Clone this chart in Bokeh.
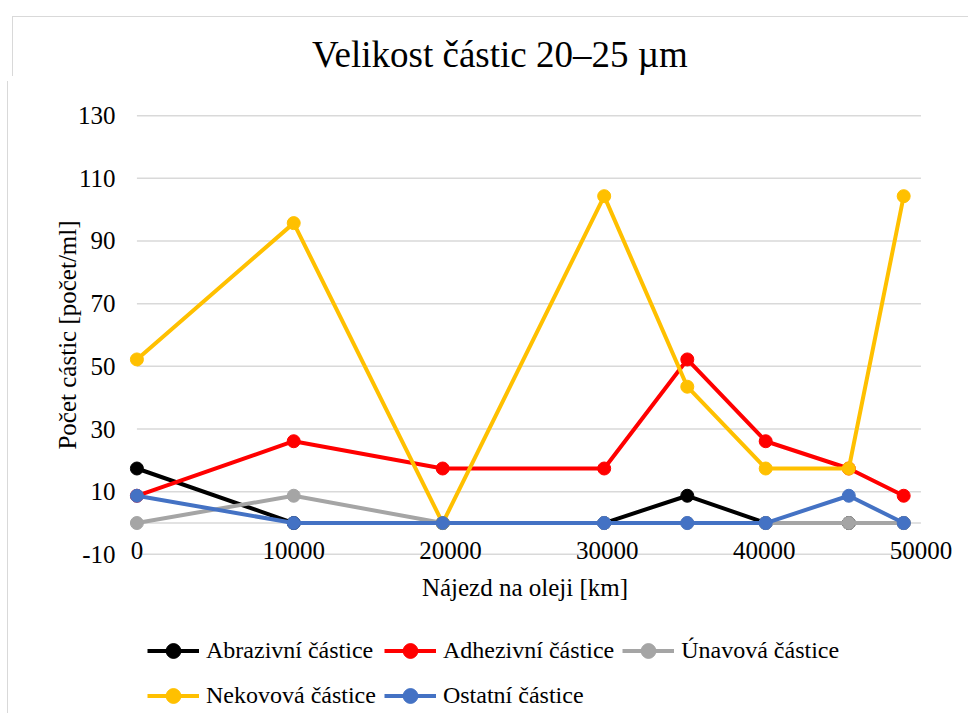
from bokeh.plotting import figure
from bokeh.models import FixedTicker, Legend, LegendItem, Range1d, Spacer, Div
from bokeh.layouts import column, row
from bokeh.embed import file_html
from bokeh.resources import INLINE

# ---- data ----
km = [0, 10000, 19500, 29800, 35100, 40100, 45400, 48900]
abrazivni = [17.4, 0, 0, 0, 8.7, 0, 0, 0]
adhezivni = [8.7, 26.1, 17.4, 17.4, 52.2, 26.1, 17.4, 8.7]
unavova = [0, 8.7, 0, 0, 0, 0, 0, 0]
nekovova = [52.2, 95.7, 0, 104.3, 43.5, 17.4, 17.4, 104.3]
ostatni = [8.7, 0, 0, 0, 0, 0, 8.7, 0]

series_names = ["Abrazivní částice", "Adhezivní částice", "Únavová částice",
                "Nekovová částice", "Ostatní částice"]
series_values = [abrazivni, adhezivni, unavova, nekovova, ostatni]
series_colors = ["#000000", "#FF0000", "#A5A5A5", "#FFC000", "#4472C4"]

x_ticks = [0, 10000, 20000, 30000, 40000, 50000]
y_ticks = [-10, 10, 30, 50, 70, 90, 110, 130]
y_axis_line = [0]

title_text = "Velikost částic 20–25 µm"
x_label = "Nájezd na oleji [km]"
y_label = "Počet cástic [počet/ml]"

FONT = "Liberation Serif"
LINE_W = 4
MARK = 13

# ---- title strip ----
title_div = Div(
    text=(f'<div style="margin:19px 0 0 299px; font-family:\'{FONT}\'; '
          f'font-size:37px; line-height:37px; color:#000; white-space:nowrap;">'
          f'{title_text}</div>'),
    width=960, height=60)
title_div.styles = {"border-left": "1px solid #d9d9d9", "border-top": "1px solid #d9d9d9",
                    "background": "white"}

# ---- main chart ----
p = figure(width=960, height=546, output_backend="svg", toolbar_location=None,
           x_range=Range1d(-600, 50100), y_range=Range1d(-11, 131),
           min_border_left=119, min_border_right=46,
           min_border_top=31, min_border_bottom=70)
p.styles = {"border-left": "1px solid #d9d9d9"}
p.outline_line_color = None
p.background_fill_color = "white"
p.border_fill_color = "white"

# grid lines (drawn as segments spanning the tick range)
grid_y = y_ticks + y_axis_line
p.segment(x0=[x_ticks[0]] * len(grid_y), x1=[x_ticks[-1]] * len(grid_y),
          y0=grid_y, y1=grid_y, line_color="#d9d9d9", line_width=1.5)
p.xgrid.visible = False
p.ygrid.visible = False

for vals, col in zip(series_values, series_colors):
    p.line(km, vals, line_color=col, line_width=LINE_W)
    p.scatter(km, vals, size=MARK, fill_color=col, line_color=col)

# axes
for ax in (p.xaxis[0], p.yaxis[0]):
    ax.axis_line_color = None
    ax.major_tick_line_color = None
    ax.minor_tick_line_color = None
    ax.major_tick_out = 0
    ax.major_tick_in = 0
    ax.major_label_text_font = FONT
    ax.major_label_text_font_size = "25px"
    ax.major_label_text_color = "#000000"
    ax.axis_label_text_font = FONT
    ax.axis_label_text_font_size = "25px"
    ax.axis_label_text_font_style = "normal"
    ax.axis_label_text_color = "#000000"

p.xaxis.ticker = FixedTicker(ticks=x_ticks)
p.yaxis.ticker = FixedTicker(ticks=y_ticks)
p.yaxis.major_label_overrides = {-10: "-10"}
p.xaxis.axis_label = x_label
p.yaxis.axis_label = y_label
p.xaxis.major_label_standoff = -16
p.xaxis.axis_label_standoff = 12
p.yaxis.major_label_standoff = 12
p.yaxis.axis_label_standoff = -6

# ---- legend strip (separate figure below the chart; its data lie outside its view) ----
pl = figure(width=960, height=95, output_backend="svg", toolbar_location=None,
            x_range=Range1d(-3, -2), y_range=Range1d(-3, -2),
            min_border_left=0, min_border_right=0, min_border_top=0,
            min_border_bottom=0)
pl.styles = {"border-left": "1px solid #d9d9d9"}
pl.outline_line_color = None
pl.axis.visible = False
pl.grid.visible = False

items = []
for name, vals, col in zip(series_names, series_values, series_colors):
    lr = pl.line(km, vals, line_color=col, line_width=LINE_W)
    sr = pl.scatter(km, vals, size=MARK, fill_color=col, line_color=col)
    items.append(LegendItem(label=name, renderers=[lr, sr]))

legend = Legend(items=items, orientation="horizontal", ncols=3,
                location=(20, 8), label_text_font=FONT,
                label_text_font_size="24px", label_text_color="#000000",
                glyph_width=52, glyph_height=37, label_height=37,
                label_standoff=7, spacing=8, padding=0, margin=0,
                border_line_color=None, background_fill_alpha=0)
pl.add_layout(legend, "center")

layout = column(Spacer(height=11, width=10),
                row(Spacer(width=7, height=10), column(title_div, p, pl)))
open("out.html", "w").write(file_html(layout, INLINE))
